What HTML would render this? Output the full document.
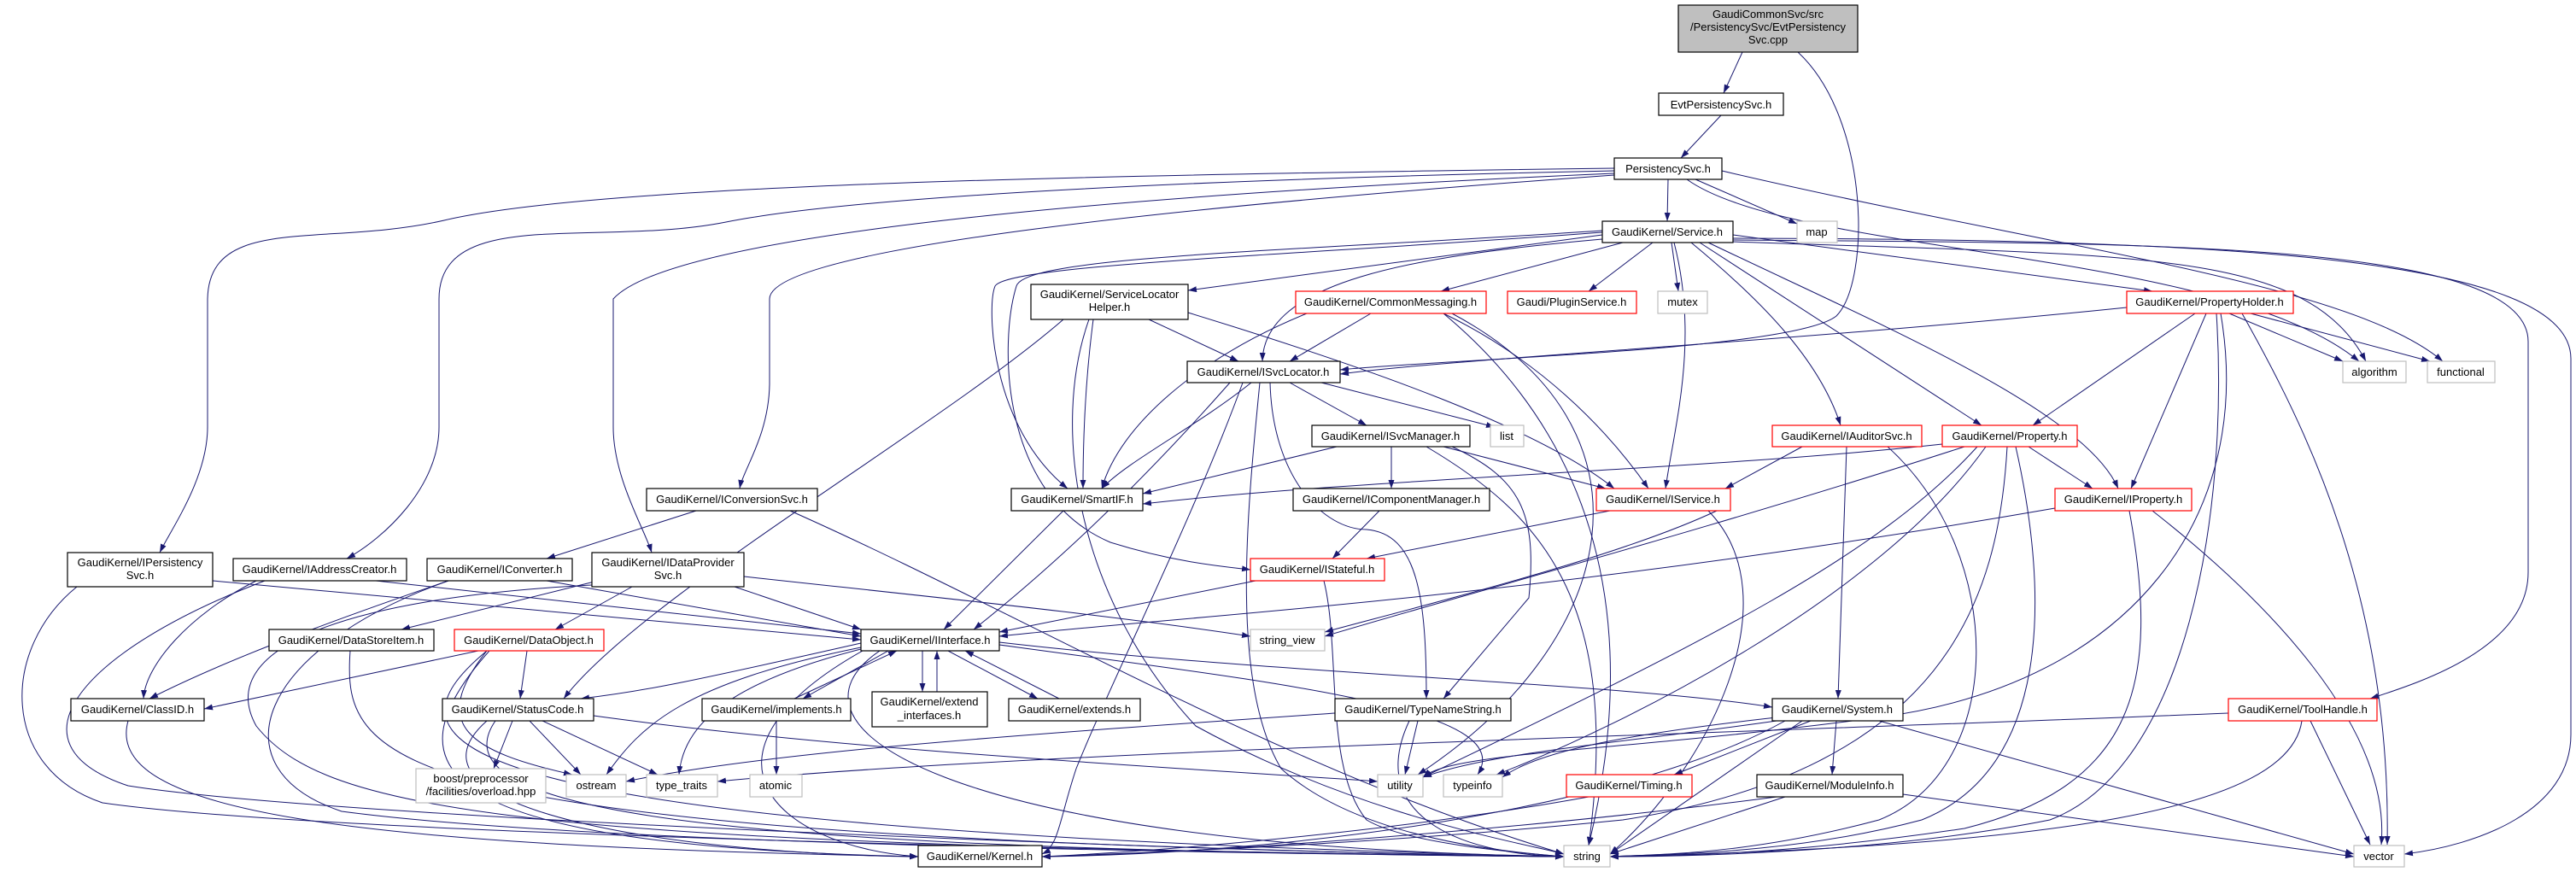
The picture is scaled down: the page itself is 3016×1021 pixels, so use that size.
<!DOCTYPE html>
<html><head><meta charset="utf-8"><style>
html,body{margin:0;padding:0;background:#fff;}
svg{display:block;}
text{font-family:"Liberation Sans",Helvetica,Arial,sans-serif;font-size:13px;fill:#000;text-anchor:middle;}
.n{fill:#fff;stroke:#000;stroke-width:1.2;}
.r{fill:#fff;stroke:#ff0000;stroke-width:1.2;}
.g{fill:#fff;stroke:#bfbfbf;stroke-width:1.2;}
.e path{fill:none;stroke:#191970;stroke-width:1;}
</style></head><body>
<svg width="3016" height="1021" viewBox="0 0 3016 1021" xmlns="http://www.w3.org/2000/svg">
<defs><marker id="a" markerUnits="userSpaceOnUse" markerWidth="11" markerHeight="8" refX="10" refY="3.5" orient="auto"><path d="M0,0 L10,3.5 L0,7 z" fill="#191970"/></marker></defs>
<g class="e" marker-end="url(#a)">
<path d="M2040 61 L2018 109" marker-end="url(#a)"/>
<path d="M2105 61 C2190 140 2190 330 2150 370 C2100 410 1700 420 1569 433" marker-end="url(#a)"/>
<path d="M2015 135 L1968 185" marker-end="url(#a)"/>
<path d="M1953 210 L1952 259" marker-end="url(#a)"/>
<path d="M1985 210 L2104 262" marker-end="url(#a)"/>
<path d="M1975 210 C2100 300 2600 290 2762 423" marker-end="url(#a)"/>
<path d="M2016 200 C2400 290 2750 330 2860 423" marker-end="url(#a)"/>
<path d="M1890 197 C1300 205 700 215 520 258 C380 290 245 250 243 350 L243 500 C243 560 200 620 187 647" marker-end="url(#a)"/>
<path d="M1890 200 C1400 210 1000 230 850 260 C700 290 514 240 514 350 L514 500 C514 570 450 630 406 654" marker-end="url(#a)"/>
<path d="M1890 203 C1500 220 800 260 718 350 L718 500 C718 560 755 620 763 647" marker-end="url(#a)"/>
<path d="M1890 205 C1400 240 901 290 901 350 L901 450 C900 510 870 550 866 572" marker-end="url(#a)"/>
<path d="M1876 275 L1391 340" marker-end="url(#a)"/>
<path d="M1900 284 L1687 341" marker-end="url(#a)"/>
<path d="M1935 284 L1860 341" marker-end="url(#a)"/>
<path d="M1957 284 L1965 341" marker-end="url(#a)"/>
<path d="M1876 280 C1650 300 1480 330 1478 423" marker-end="url(#a)"/>
<path d="M1876 272 C1500 300 1180 310 1165 335 C1155 360 1160 500 1250 572" marker-end="url(#a)"/>
<path d="M1876 270 C1500 295 1200 300 1190 335 C1170 400 1170 580 1300 635 C1380 660 1440 664 1464 667" marker-end="url(#a)"/>
<path d="M1960 284 C1990 400 1960 500 1950 572" marker-end="url(#a)"/>
<path d="M1980 284 C2060 350 2130 420 2155 498" marker-end="url(#a)"/>
<path d="M1990 284 L2320 498" marker-end="url(#a)"/>
<path d="M2029 275 L2520 341" marker-end="url(#a)"/>
<path d="M2000 284 C2200 380 2440 480 2480 572" marker-end="url(#a)"/>
<path d="M2029 281 C2500 285 2960 280 2960 400 L2960 670 C2960 760 2830 800 2775 818" marker-end="url(#a)"/>
<path d="M2029 279 C2600 280 3010 300 3010 420 L3010 860 C3010 950 2900 990 2815 1000" marker-end="url(#a)"/>
<path d="M2029 283 C2500 300 2700 290 2770 423" marker-end="url(#a)"/>
<path d="M1345 374 L1450 423" marker-end="url(#a)"/>
<path d="M1280 374 C1270 450 1268 520 1268 572" marker-end="url(#a)"/>
<path d="M1245 374 C1100 500 750 700 660 818" marker-end="url(#a)"/>
<path d="M1391 366 C1600 430 1800 500 1890 572" marker-end="url(#a)"/>
<path d="M1275 374 C1230 500 1260 700 1400 850 C1600 960 1800 990 1831 1000" marker-end="url(#a)"/>
<path d="M1605 367 L1510 423" marker-end="url(#a)"/>
<path d="M1530 367 C1400 420 1310 500 1290 572" marker-end="url(#a)"/>
<path d="M1690 367 C1800 420 1880 500 1930 572" marker-end="url(#a)"/>
<path d="M1700 367 C1950 500 1900 750 1660 907" marker-end="url(#a)"/>
<path d="M1690 367 C1850 500 1930 700 1860 990" marker-end="url(#a)"/>
<path d="M1510 448 L1600 498" marker-end="url(#a)"/>
<path d="M1547 448 L1750 500" marker-end="url(#a)"/>
<path d="M1465 448 C1400 500 1320 540 1290 572" marker-end="url(#a)"/>
<path d="M1440 448 C1350 550 1250 650 1140 737" marker-end="url(#a)"/>
<path d="M1475 448 C1460 600 1440 800 1500 900 C1600 990 1800 1000 1831 1003" marker-end="url(#a)"/>
<path d="M1487 448 C1490 560 1550 620 1600 620 C1660 625 1670 700 1670 818" marker-end="url(#a)"/>
<path d="M1455 448 C1400 600 1300 800 1260 900 C1240 960 1240 990 1220 1000" marker-end="url(#a)"/>
<path d="M1565 523 L1338 578" marker-end="url(#a)"/>
<path d="M1629 523 L1629 572" marker-end="url(#a)"/>
<path d="M1690 523 L1880 572" marker-end="url(#a)"/>
<path d="M1700 523 C1780 560 1800 600 1790 700 L1690 818" marker-end="url(#a)"/>
<path d="M1670 523 C1800 600 1900 700 1860 990" marker-end="url(#a)"/>
<path d="M1615 598 L1560 654" marker-end="url(#a)"/>
<path d="M1885 598 L1600 654" marker-end="url(#a)"/>
<path d="M2010 598 C1900 650 1700 700 1551 740" marker-end="url(#a)"/>
<path d="M2000 598 C2100 700 2000 900 1885 1000" marker-end="url(#a)"/>
<path d="M1470 680 L1170 740" marker-end="url(#a)"/>
<path d="M1550 680 C1570 760 1550 900 1600 960 C1650 990 1800 1000 1831 1003" marker-end="url(#a)"/>
<path d="M1245 598 L1105 737" marker-end="url(#a)"/>
<path d="M2110 523 L2020 572" marker-end="url(#a)"/>
<path d="M2162 523 L2152 818" marker-end="url(#a)"/>
<path d="M2210 523 C2350 650 2350 900 2200 960 C2050 1000 1950 1000 1885 1003" marker-end="url(#a)"/>
<path d="M2375 523 L2450 572" marker-end="url(#a)"/>
<path d="M2274 520 C2000 550 1600 560 1338 590" marker-end="url(#a)"/>
<path d="M2300 523 C2000 620 1700 700 1551 745" marker-end="url(#a)"/>
<path d="M2315 523 C2200 650 2000 750 1666 910" marker-end="url(#a)"/>
<path d="M2325 523 C2200 700 1900 850 1752 907" marker-end="url(#a)"/>
<path d="M2350 523 C2340 700 2280 900 1900 960 C1600 990 1300 1000 1220 1003" marker-end="url(#a)"/>
<path d="M2360 523 C2400 700 2400 900 2250 960 C2100 1000 1950 1000 1885 1003" marker-end="url(#a)"/>
<path d="M2490 360 C2100 400 1700 420 1569 438" marker-end="url(#a)"/>
<path d="M2570 367 L2380 498" marker-end="url(#a)"/>
<path d="M2583 367 L2495 572" marker-end="url(#a)"/>
<path d="M2610 367 L2743 423" marker-end="url(#a)"/>
<path d="M2635 367 L2845 423" marker-end="url(#a)"/>
<path d="M2625 367 C2700 500 2800 700 2795 989" marker-end="url(#a)"/>
<path d="M2595 367 C2610 600 2560 900 2400 960 C2200 1000 1950 1003 1885 1003" marker-end="url(#a)"/>
<path d="M2600 367 C2640 600 2500 800 2200 840 C1900 880 1700 880 1666 910" marker-end="url(#a)"/>
<path d="M2406 595 C1800 700 1400 720 1170 745" marker-end="url(#a)"/>
<path d="M2493 598 C2530 800 2500 920 2300 970 C2100 1000 1950 1003 1885 1003" marker-end="url(#a)"/>
<path d="M2520 598 C2650 700 2800 850 2788 989" marker-end="url(#a)"/>
<path d="M2705 844 L2775 989" marker-end="url(#a)"/>
<path d="M2695 844 C2680 950 2400 990 1885 1003" marker-end="url(#a)"/>
<path d="M2609 835 C2000 860 1200 880 840 915" marker-end="url(#a)"/>
<path d="M815 598 L640 654" marker-end="url(#a)"/>
<path d="M925 598 C1200 720 1500 900 1831 1000" marker-end="url(#a)"/>
<path d="M640 680 L1008 745" marker-end="url(#a)"/>
<path d="M525 680 C350 740 250 780 175 818" marker-end="url(#a)"/>
<path d="M525 680 C300 760 250 900 400 950 C700 990 1500 1000 1831 1003" marker-end="url(#a)"/>
<path d="M249 680 L1008 749" marker-end="url(#a)"/>
<path d="M90 687 C0 760 0 900 120 940 C400 980 1500 1000 1831 1003" marker-end="url(#a)"/>
<path d="M440 680 L1008 742" marker-end="url(#a)"/>
<path d="M300 680 C220 720 170 780 168 818" marker-end="url(#a)"/>
<path d="M310 680 C100 760 0 870 150 920 C400 960 1500 1000 1831 1003" marker-end="url(#a)"/>
<path d="M700 680 L470 737" marker-end="url(#a)"/>
<path d="M740 687 L650 737" marker-end="url(#a)"/>
<path d="M860 687 L1008 737" marker-end="url(#a)"/>
<path d="M871 675 C1100 700 1300 720 1464 745" marker-end="url(#a)"/>
<path d="M693 685 C400 700 250 760 300 850 C380 950 600 990 1831 1003" marker-end="url(#a)"/>
<path d="M410 762 C400 900 450 980 1831 1003" marker-end="url(#a)"/>
<path d="M560 762 L239 830" marker-end="url(#a)"/>
<path d="M617 762 L609 818" marker-end="url(#a)"/>
<path d="M570 762 C500 850 550 880 670 907" marker-end="url(#a)"/>
<path d="M570 762 C440 870 480 970 1831 1003" marker-end="url(#a)"/>
<path d="M573 762 C450 900 500 990 1075 1003" marker-end="url(#a)"/>
<path d="M1008 753 C800 800 750 810 680 818" marker-end="url(#a)"/>
<path d="M1040 762 L940 818" marker-end="url(#a)"/>
<path d="M1080 762 L1080 810" marker-end="url(#a)"/>
<path d="M1110 762 L1215 818" marker-end="url(#a)"/>
<path d="M1170 752 C1500 790 1900 800 2075 828" marker-end="url(#a)"/>
<path d="M1008 758 C800 800 750 850 710 907" marker-end="url(#a)"/>
<path d="M1008 760 C850 800 800 850 795 907" marker-end="url(#a)"/>
<path d="M1170 755 C1500 800 1780 830 1730 907" marker-end="url(#a)"/>
<path d="M1010 762 C800 880 900 990 1075 1003" marker-end="url(#a)"/>
<path d="M1030 762 C900 850 1100 990 1831 1003" marker-end="url(#a)"/>
<path d="M930 818 L1050 762" marker-end="url(#a)"/>
<path d="M1097 810 L1097 762" marker-end="url(#a)"/>
<path d="M1240 818 L1130 762" marker-end="url(#a)"/>
<path d="M909 844 L909 907" marker-end="url(#a)"/>
<path d="M600 844 L578 900" marker-end="url(#a)"/>
<path d="M620 844 L680 907" marker-end="url(#a)"/>
<path d="M635 844 L770 907" marker-end="url(#a)"/>
<path d="M695 838 C1000 880 1400 900 1613 915" marker-end="url(#a)"/>
<path d="M570 844 C450 950 800 1000 1075 1003" marker-end="url(#a)"/>
<path d="M580 844 C500 960 900 995 1831 1003" marker-end="url(#a)"/>
<path d="M1650 844 C1600 950 1700 1000 1831 1003" marker-end="url(#a)"/>
<path d="M1660 844 L1645 907" marker-end="url(#a)"/>
<path d="M1563 835 C1200 860 900 880 733 915" marker-end="url(#a)"/>
<path d="M2090 844 C1900 950 1500 1000 1220 1003" marker-end="url(#a)"/>
<path d="M2110 844 L1885 1000" marker-end="url(#a)"/>
<path d="M2150 844 L2145 907" marker-end="url(#a)"/>
<path d="M2120 844 L1960 907" marker-end="url(#a)"/>
<path d="M2080 844 C1900 870 1750 880 1666 910" marker-end="url(#a)"/>
<path d="M2080 840 C1900 860 1800 880 1759 910" marker-end="url(#a)"/>
<path d="M2200 844 L2756 1000" marker-end="url(#a)"/>
<path d="M2080 933 C1800 970 1400 1000 1220 1003" marker-end="url(#a)"/>
<path d="M2090 933 L1885 1000" marker-end="url(#a)"/>
<path d="M2228 930 L2756 1003" marker-end="url(#a)"/>
<path d="M1860 933 C1600 980 1300 1000 1220 1003" marker-end="url(#a)"/>
<path d="M150 844 C120 950 400 990 1075 1003" marker-end="url(#a)"/>
</g>
<g>
<rect x="1965" y="6" width="210" height="55" fill="#bfbfbf" stroke="#000" stroke-width="1.2"/>
<text x="2070" y="21">GaudiCommonSvc/src</text><text x="2070" y="36">/PersistencySvc/EvtPersistency</text><text x="2070" y="51">Svc.cpp</text>
<rect class="n" x="1942" y="109" width="146" height="26"/><text x="2015" y="127">EvtPersistencySvc.h</text>
<rect class="n" x="1890" y="185" width="126" height="25"/><text x="1953" y="202">PersistencySvc.h</text>
<rect class="n" x="1876" y="259" width="153" height="25"/><text x="1952" y="276">GaudiKernel/Service.h</text>
<rect class="g" x="2104" y="259" width="47" height="25"/><text x="2127" y="276">map</text>
<rect class="n" x="1207" y="333" width="184" height="41"/><text x="1299" y="349">GaudiKernel/ServiceLocator</text><text x="1299" y="364">Helper.h</text>
<rect class="r" x="1517" y="341" width="223" height="26"/><text x="1628" y="358">GaudiKernel/CommonMessaging.h</text>
<rect class="r" x="1765" y="341" width="151" height="26"/><text x="1840" y="358">Gaudi/PluginService.h</text>
<rect class="g" x="1941" y="341" width="58" height="26"/><text x="1970" y="358">mutex</text>
<rect class="r" x="2490" y="341" width="195" height="26"/><text x="2587" y="358">GaudiKernel/PropertyHolder.h</text>
<rect class="n" x="1390" y="423" width="179" height="25"/><text x="1479" y="440">GaudiKernel/ISvcLocator.h</text>
<rect class="g" x="2743" y="423" width="74" height="25"/><text x="2780" y="440">algorithm</text>
<rect class="g" x="2842" y="423" width="79" height="25"/><text x="2881" y="440">functional</text>
<rect class="n" x="1536" y="498" width="185" height="25"/><text x="1628" y="515">GaudiKernel/ISvcManager.h</text>
<rect class="g" x="1745" y="498" width="39" height="25"/><text x="1764" y="515">list</text>
<rect class="r" x="2075" y="498" width="175" height="25"/><text x="2162" y="515">GaudiKernel/IAuditorSvc.h</text>
<rect class="r" x="2274" y="498" width="158" height="25"/><text x="2353" y="515">GaudiKernel/Property.h</text>
<rect class="n" x="757" y="572" width="200" height="26"/><text x="857" y="589">GaudiKernel/IConversionSvc.h</text>
<rect class="n" x="1184" y="572" width="154" height="26"/><text x="1261" y="589">GaudiKernel/SmartIF.h</text>
<rect class="n" x="1514" y="572" width="230" height="26"/><text x="1629" y="589">GaudiKernel/IComponentManager.h</text>
<rect class="r" x="1869" y="572" width="157" height="26"/><text x="1947" y="589">GaudiKernel/IService.h</text>
<rect class="r" x="2406" y="572" width="160" height="26"/><text x="2486" y="589">GaudiKernel/IProperty.h</text>
<rect class="n" x="79" y="647" width="170" height="40"/><text x="164" y="663">GaudiKernel/IPersistency</text><text x="164" y="678">Svc.h</text>
<rect class="n" x="273" y="654" width="203" height="26"/><text x="374" y="671">GaudiKernel/IAddressCreator.h</text>
<rect class="n" x="500" y="654" width="170" height="26"/><text x="585" y="671">GaudiKernel/IConverter.h</text>
<rect class="n" x="693" y="647" width="178" height="40"/><text x="782" y="663">GaudiKernel/IDataProvider</text><text x="782" y="678">Svc.h</text>
<rect class="r" x="1464" y="654" width="157" height="26"/><text x="1542" y="671">GaudiKernel/IStateful.h</text>
<rect class="n" x="315" y="737" width="193" height="25"/><text x="411" y="754">GaudiKernel/DataStoreItem.h</text>
<rect class="r" x="532" y="737" width="175" height="25"/><text x="619" y="754">GaudiKernel/DataObject.h</text>
<rect class="n" x="1008" y="737" width="162" height="25"/><text x="1089" y="754">GaudiKernel/IInterface.h</text>
<rect class="g" x="1464" y="737" width="87" height="25"/><text x="1507" y="754">string_view</text>
<rect class="n" x="83" y="818" width="156" height="26"/><text x="161" y="835">GaudiKernel/ClassID.h</text>
<rect class="n" x="518" y="818" width="177" height="26"/><text x="606" y="835">GaudiKernel/StatusCode.h</text>
<rect class="n" x="822" y="818" width="174" height="26"/><text x="909" y="835">GaudiKernel/implements.h</text>
<rect class="n" x="1021" y="810" width="135" height="41"/><text x="1088" y="826">GaudiKernel/extend</text><text x="1088" y="842">_interfaces.h</text>
<rect class="n" x="1181" y="818" width="154" height="26"/><text x="1258" y="835">GaudiKernel/extends.h</text>
<rect class="n" x="1563" y="818" width="206" height="26"/><text x="1666" y="835">GaudiKernel/TypeNameString.h</text>
<rect class="n" x="2075" y="818" width="153" height="26"/><text x="2151" y="835">GaudiKernel/System.h</text>
<rect class="r" x="2609" y="818" width="174" height="26"/><text x="2696" y="835">GaudiKernel/ToolHandle.h</text>
<rect class="g" x="487" y="900" width="152" height="40"/><text x="563" y="916">boost/preprocessor</text><text x="563" y="931">/facilities/overload.hpp</text>
<rect class="g" x="663" y="907" width="70" height="26"/><text x="698" y="924">ostream</text>
<rect class="g" x="757" y="907" width="83" height="26"/><text x="798" y="924">type_traits</text>
<rect class="g" x="878" y="907" width="61" height="26"/><text x="908" y="924">atomic</text>
<rect class="g" x="1613" y="907" width="53" height="26"/><text x="1639" y="924">utility</text>
<rect class="g" x="1690" y="907" width="69" height="26"/><text x="1724" y="924">typeinfo</text>
<rect class="r" x="1834" y="907" width="147" height="26"/><text x="1907" y="924">GaudiKernel/Timing.h</text>
<rect class="n" x="2057" y="907" width="171" height="26"/><text x="2142" y="924">GaudiKernel/ModuleInfo.h</text>
<rect class="n" x="1075" y="990" width="145" height="25"/><text x="1147" y="1007">GaudiKernel/Kernel.h</text>
<rect class="g" x="1831" y="990" width="54" height="25"/><text x="1858" y="1007">string</text>
<rect class="g" x="2756" y="990" width="59" height="25"/><text x="2785" y="1007">vector</text>
</g>
</svg>
</body></html>
